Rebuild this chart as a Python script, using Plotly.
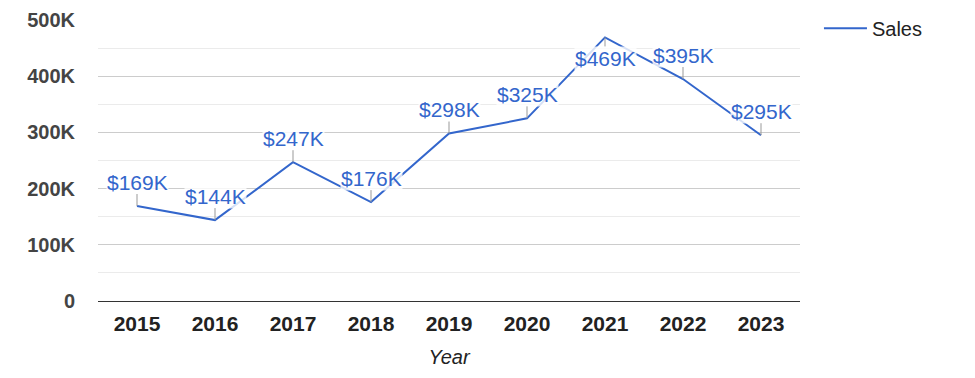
import plotly.graph_objects as go

years = ["2015", "2016", "2017", "2018", "2019", "2020", "2021", "2022", "2023"]
sales = [169000, 144000, 247000, 176000, 298000, 325000, 469000, 395000, 295000]
labels = ["$169K", "$144K", "$247K", "$176K", "$298K", "$325K", "$469K", "$395K", "$295K"]
y_tickvals = [0, 100000, 200000, 300000, 400000, 500000]
y_ticktext = ["0", "100K", "200K", "300K", "400K", "500K"]

FONT = "Liberation Sans, Arial, sans-serif"
BLUE = "#3366cc"

fig = go.Figure()
fig.add_trace(go.Scatter(x=years, y=sales, mode="lines", name="Sales",
                         line=dict(color=BLUE, width=2)))

for i, (y, t) in enumerate(zip(sales, labels)):
    below = y > 450000
    fig.add_annotation(x=i, y=y, xref="x", yref="y", text=t, showarrow=True,
                       arrowhead=0, arrowwidth=1, arrowcolor="#999999", ax=0,
                       ay=21 if below else -24, standoff=0,
                       font=dict(family=FONT, size=21, color=BLUE),
                       bgcolor="rgba(255,255,255,0.8)", borderpad=0)

fig.update_layout(
    width=975, height=378,
    margin=dict(l=98, r=175, t=20, b=77, autoexpand=False),
    paper_bgcolor="white", plot_bgcolor="white",
    font=dict(family=FONT, size=20, color="#222222"),
    showlegend=True,
    legend=dict(x=1.027, y=1.04, xanchor="left", yanchor="top", itemwidth=43,
                font=dict(family=FONT, size=20, color="#222222")),
    xaxis=dict(type="category", range=[-0.5, 8.5], showgrid=False, automargin=False,
               ticks="", showline=False, ticklabelstandoff=8,
               tickfont=dict(family=FONT, size=21, color="#222222", weight="bold"),
               title=dict(text="<i>Year</i>", font=dict(family=FONT, size=20, color="#222222"))),
    yaxis=dict(range=[0, 500000], tickvals=y_tickvals, ticktext=y_ticktext, automargin=False,
               showgrid=True, gridcolor="#cccccc", gridwidth=1,
               zeroline=True, zerolinecolor="#333333", zerolinewidth=1,
               ticks="", ticklabelstandoff=22,
               tickfont=dict(family=FONT, size=20, color="#444444", weight="bold"),
               minor=dict(dtick=50000, showgrid=True, gridcolor="#ebebeb", gridwidth=1)),
)

fig.write_html("out.html", config={"displayModeBar": False},
               post_script="document.body.style.margin='0';")
